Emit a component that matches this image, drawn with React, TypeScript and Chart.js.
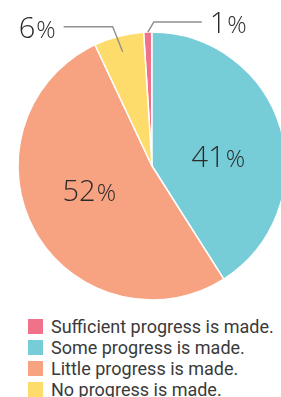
import React, { useEffect, useRef } from "react";
import { Chart, registerables } from "chart.js";

Chart.register(...registerables);

const categories = [
  "Sufficient progress is made.",
  "Some progress is made.",
  "Little progress is made.",
  "No progress is made.",
];
const values = [1, 41, 52, 6];
const colors = ["#F0718A", "#76CDD8", "#F7A280", "#FEDC6B"];

const LABEL_FONT = "'Open Sans', 'Lato', sans-serif";
const TEXT_COLOR = "#2a2a2a";

// per-slice label placement (style only)
const labelStyle = [
  { outside: true, r: 1.0, elbowDx: 6, elbowDy: -10, lineLen: 48, dir: 1 },
  { outside: false, r: 0.5, dx: 2, dy: 9 },
  { outside: false, r: 0.5, dx: -4, dy: -8 },
  { outside: true, r: 0.88, elbowDx: -10, elbowDy: -25, lineLen: 49, dir: -1 },
];

const labelPlugin = {
  id: "pctLabels",
  afterDraw(chart: any) {
    const ctx = chart.ctx;
    const meta = chart.getDatasetMeta(0);
    const bigFont = `300 29px ${LABEL_FONT}`;
    const smallFont = `300 24px ${LABEL_FONT}`;
    meta.data.forEach((arc: any, i: number) => {
      const { x, y, startAngle, endAngle, outerRadius } = arc.getProps(
        ["x", "y", "startAngle", "endAngle", "outerRadius"],
        true
      );
      const mid = (startAngle + endAngle) / 2;
      const st: any = labelStyle[i];
      const num = String(values[i]);
      ctx.save();
      ctx.textBaseline = "alphabetic";
      ctx.font = bigFont;
      const wNum = ctx.measureText(num).width;
      ctx.font = smallFont;
      const wPct = ctx.measureText("%").width;
      const gapPct = 1;
      const total = wNum + gapPct + wPct;
      let tx: number, ty: number;
      if (!st.outside) {
        const cx = x + Math.cos(mid) * outerRadius * st.r + st.dx;
        const cy = y + Math.sin(mid) * outerRadius * st.r + st.dy;
        tx = cx - total / 2;
        ty = cy + 10.5;
      } else {
        const px = x + Math.cos(mid) * outerRadius * st.r;
        const py = y + Math.sin(mid) * outerRadius * st.r;
        const ex = px + st.elbowDx;
        const ey = py + st.elbowDy;
        const lx = ex + st.dir * st.lineLen;
        ctx.strokeStyle = "#8f8f8f";
        ctx.lineWidth = 1.4;
        ctx.beginPath();
        ctx.moveTo(px, py);
        ctx.lineTo(ex, ey);
        ctx.lineTo(lx, ey);
        ctx.stroke();
        const gap = 8;
        tx = st.dir > 0 ? lx + gap : lx - gap - total;
        ty = ey + 11;
      }
      ctx.fillStyle = TEXT_COLOR;
      ctx.font = bigFont;
      ctx.fillText(num, tx, ty);
      ctx.font = smallFont;
      ctx.fillText("%", tx + wNum + gapPct, ty);
      ctx.restore();
    });
  },
};

export default function App() {
  const ref = useRef<HTMLCanvasElement | null>(null);
  useEffect(() => {
    if (!ref.current) return;
    const chart = new Chart(ref.current, {
      type: "pie",
      data: {
        labels: categories,
        datasets: [
          {
            data: values,
            backgroundColor: colors,
            borderColor: "#ffffff",
            borderWidth: 1.5,
          },
        ],
      },
      options: {
        animation: false,
        responsive: false,
        devicePixelRatio: 1,
        rotation: -3.6,
        radius: 134,
        layout: { padding: { left: 18, top: 32, right: 34, bottom: 10 } },
        plugins: {
          legend: { display: false },
          tooltip: { enabled: false },
        },
      },
      plugins: [labelPlugin],
    });
    return () => chart.destroy();
  }, []);

  return (
    <div
      style={{
        position: "fixed",
        left: 0,
        top: 0,
        width: 281,
        height: 397,
        overflow: "hidden",
        background: "#ffffff",
      }}
    >
      <canvas
        ref={ref}
        width={320}
        height={310}
        style={{ position: "absolute", left: 0, top: 0, width: 320, height: 310 }}
      />
      {categories.map((c, i) => (
        <div
          key={c}
          style={{
            position: "absolute",
            left: 28,
            top: 319 + i * 21,
            height: 15,
            display: "flex",
            alignItems: "center",
            whiteSpace: "nowrap",
          }}
        >
          <span
            style={{
              display: "inline-block",
              width: 15,
              height: 15,
              background: colors[i],
              marginRight: 8,
            }}
          />
          <span
            style={{
              fontFamily: "Roboto, sans-serif",
              fontSize: 18,
              lineHeight: "15px",
              color: "#3a3a3a",
            }}
          >
            {c}
          </span>
        </div>
      ))}
    </div>
  );
}
